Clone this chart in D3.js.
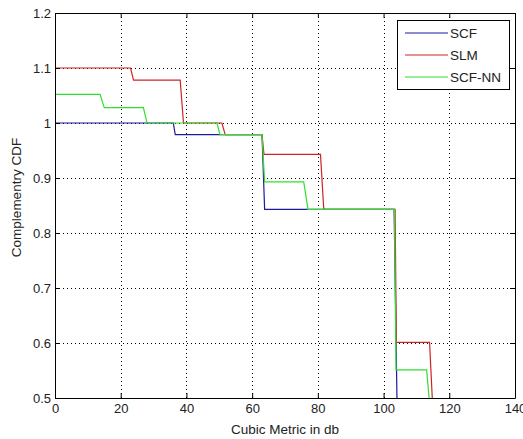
<!DOCTYPE html>
<html>
<head>
<meta charset="utf-8">
<script src="https://cdn.jsdelivr.net/npm/d3@7"></script>
<style>
  html, body { margin: 0; padding: 0; background: #fff; }
  svg { display: block; }
  text { font-family: "Liberation Sans", Arial, sans-serif; fill: #222; }
</style>
</head>
<body>
<svg id="chart" width="523" height="439"></svg>
<script>
// Complementary CDF of the cubic metric for three schemes (step curves)
const seriesNames = ["SCF", "SLM", "SCF-NN"];
const seriesColors = ["#1c1c9c", "#d02424", "#2ee02e"];

const scfX = [0, 36.0, 36.6, 63.0, 63.8, 103.2, 104.1];
const scfY = [1.0, 1.0, 0.979, 0.979, 0.843, 0.843, 0.49];

const slmX = [0, 23.0, 23.9, 38.1, 39.1, 50.8, 51.8, 63.0, 63.6, 80.8, 81.8, 103.5, 103.9, 114.0, 114.9];
const slmY = [1.1, 1.1, 1.078, 1.078, 1.0, 1.0, 0.979, 0.979, 0.943, 0.943, 0.843, 0.843, 0.601, 0.601, 0.49];

const scfnnX = [0, 13.7, 15.0, 26.9, 28.0, 49.3, 50.2, 63.0, 63.8, 75.7, 77.0, 103.3, 103.8, 113.1, 114.0];
const scfnnY = [1.052, 1.052, 1.028, 1.028, 1.0, 1.0, 0.979, 0.979, 0.893, 0.893, 0.843, 0.843, 0.551, 0.551, 0.49];

const xTicks = [0, 20, 40, 60, 80, 100, 120, 140];
const yTicks = [0.5, 0.6, 0.7, 0.8, 0.9, 1, 1.1, 1.2];

const xLabel = "Cubic Metric in db";
const yLabel = "Complementry CDF";

const svg = d3.select("#chart");
const m = { left: 55, top: 13, right: 8, bottom: 41 };
const W = 523, H = 439;
const pw = W - m.left - m.right, ph = H - m.top - m.bottom;

const x = d3.scaleLinear().domain([0, 140]).range([0, pw]);
const y = d3.scaleLinear().domain([0.5, 1.2]).range([ph, 0]);

const g = svg.append("g").attr("transform", `translate(${m.left},${m.top})`);

svg.append("defs").append("clipPath").attr("id", "plotclip")
  .append("rect").attr("width", pw).attr("height", ph);

// dotted grid
const grid = g.append("g").attr("stroke", "#000").attr("stroke-width", 1)
  .attr("stroke-dasharray", "1,3");
grid.selectAll(".gx").data(xTicks.slice(1, -1)).join("line")
  .attr("x1", d => Math.round(x(d)) + 0.5).attr("x2", d => Math.round(x(d)) + 0.5)
  .attr("y1", 0).attr("y2", ph);
grid.selectAll(".gy").data(yTicks.slice(1, -1)).join("line")
  .attr("y1", d => Math.round(y(d)) + 0.5).attr("y2", d => Math.round(y(d)) + 0.5)
  .attr("x1", 0).attr("x2", pw);

// curves
const curves = [
  { name: seriesNames[0], xs: scfX, ys: scfY, color: seriesColors[0] },
  { name: seriesNames[1], xs: slmX, ys: slmY, color: seriesColors[1] },
  { name: seriesNames[2], xs: scfnnX, ys: scfnnY, color: seriesColors[2] }
];
const line = d3.line().x(d => x(d[0])).y(d => y(d[1]));
g.append("g").attr("clip-path", "url(#plotclip)")
  .selectAll("path").data(curves).join("path")
  .attr("fill", "none")
  .attr("stroke", d => d.color)
  .attr("stroke-width", 1.2)
  .attr("d", d => line(d.xs.map((v, i) => [v, d.ys[i]])));

// axes with inward ticks on all four sides
const fmt = d => String(d);
const axB = g.append("g").attr("transform", `translate(0,${ph})`)
  .call(d3.axisBottom(x).tickValues(xTicks).tickFormat(fmt).tickSizeInner(-5).tickSizeOuter(0).tickPadding(7));
const axL = g.append("g")
  .call(d3.axisLeft(y).tickValues(yTicks).tickFormat(fmt).tickSizeInner(-5).tickSizeOuter(0).tickPadding(4));
const axT = g.append("g")
  .call(d3.axisTop(x).tickValues(xTicks).tickFormat("").tickSizeInner(-5).tickSizeOuter(0));
const axR = g.append("g").attr("transform", `translate(${pw},0)`)
  .call(d3.axisRight(y).tickValues(yTicks).tickFormat("").tickSizeInner(-5).tickSizeOuter(0));
[axB, axL, axT, axR].forEach(a => {
  a.select(".domain").attr("stroke", "#000");
  a.selectAll(".tick line").attr("stroke", "#000");
  a.selectAll("text").attr("font-size", 13).attr("fill", "#222")
    .attr("font-family", "'Liberation Sans', Arial, sans-serif");
});
axB.selectAll("text").attr("dy", "0.6em");

// axis titles
svg.append("text").attr("x", m.left + pw / 2).attr("y", 434)
  .attr("text-anchor", "middle").attr("font-size", 13.5).text(xLabel);
svg.append("text")
  .attr("transform", `translate(21,${m.top + ph / 2 - 8}) rotate(-90)`)
  .attr("text-anchor", "middle").attr("font-size", 13.5).text(yLabel);

// legend
const lg = svg.append("g").attr("transform", "translate(397,20)");
lg.append("rect").attr("x", 0.5).attr("y", 0.5).attr("width", 112).attr("height", 69)
  .attr("fill", "#fff").attr("stroke", "#000");
const rows = lg.selectAll(".row").data(curves).join("g")
  .attr("transform", (d, i) => `translate(0,${13 + i * 22})`);
rows.append("line").attr("x1", 8).attr("x2", 51).attr("y1", 0).attr("y2", 0)
  .attr("stroke", d => d.color).attr("stroke-width", 1.2);
rows.append("text").attr("x", 53).attr("y", 0).attr("dy", "0.35em")
  .attr("font-size", 13.5).text(d => d.name);
</script>
</body>
</html>
